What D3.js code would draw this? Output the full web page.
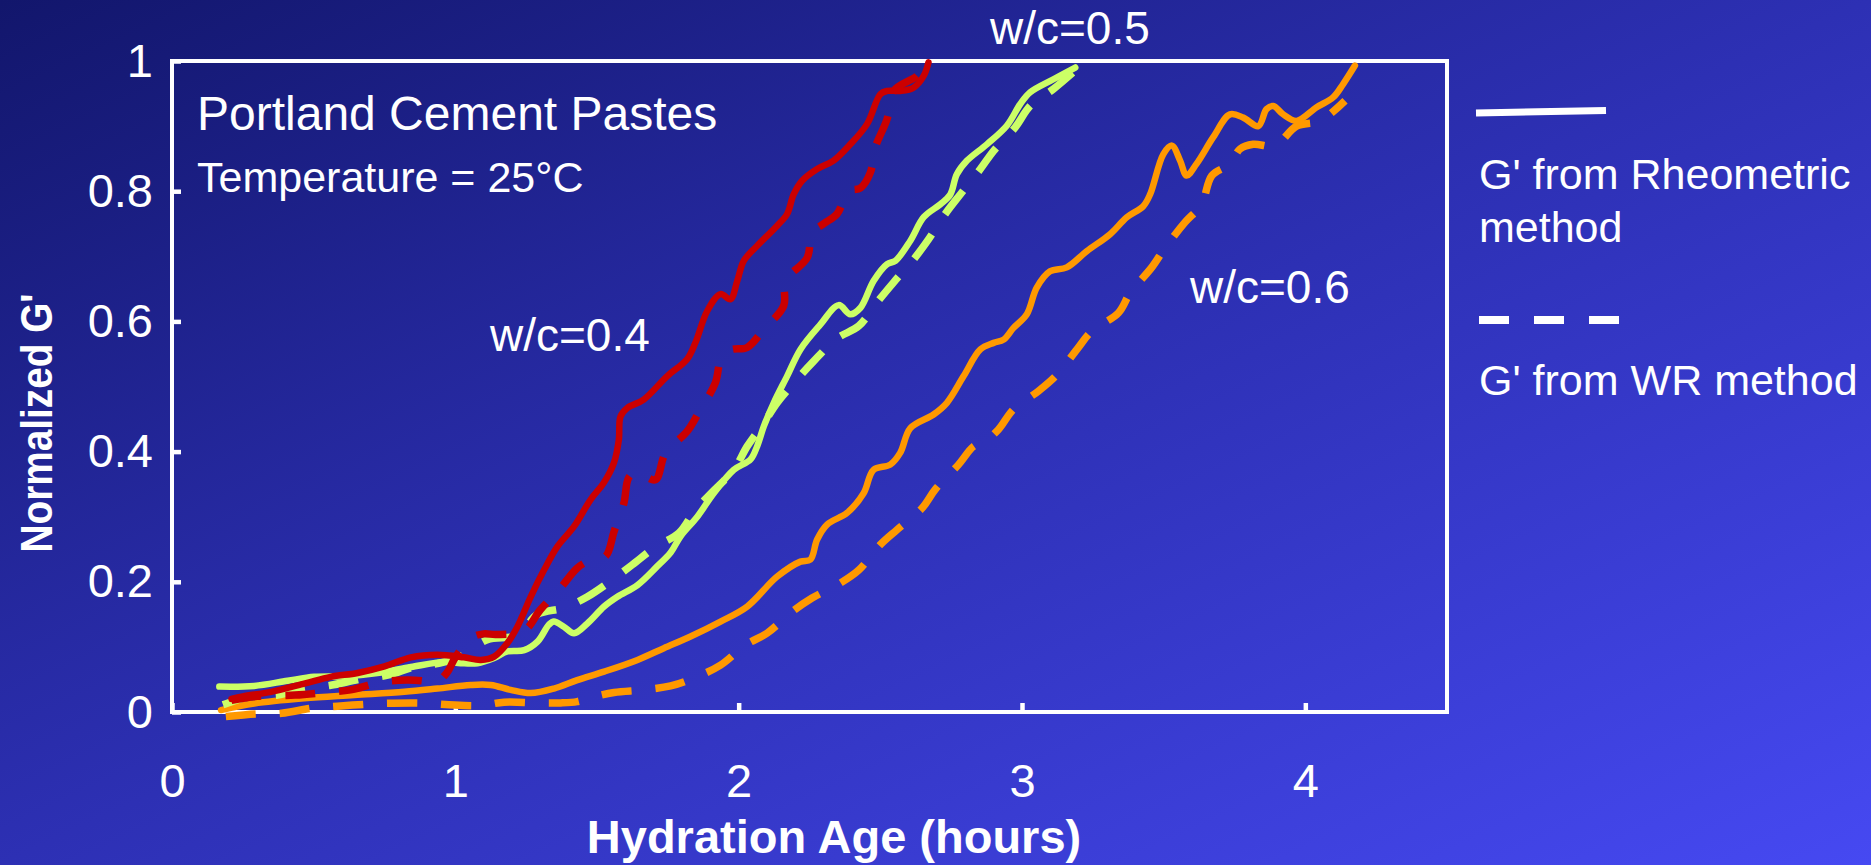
<!DOCTYPE html>
<html>
<head>
<meta charset="utf-8">
<script src="https://cdn.jsdelivr.net/npm/d3@7"></script>
<style>
  html, body { margin: 0; padding: 0; overflow: hidden; background: #2a2ca8; }
  svg { display: block; }
  text { font-family: "Liberation Sans", Arial, Helvetica, sans-serif; fill: #ffffff; }
</style>
</head>
<body>
<svg id="chart" width="1871" height="865"></svg>
<script>
// Normalized storage modulus G' vs hydration age (hours), Portland cement pastes at 25 °C.
// Each series: [hours, normalized G'].

const xTickValues = [0, 1, 2, 3, 4];
const yTickValues = [0, 0.2, 0.4, 0.6, 0.8, 1];
const yTickLabels = ["0", "0.2", "0.4", "0.6", "0.8", "1"];

// w/c = 0.4
const wc04Rheometric = [
  [0.21,0.020],[0.25,0.024],[0.35,0.031],[0.47,0.044],[0.56,0.054],[0.655,0.060],[0.75,0.070],
  [0.843,0.084],[0.937,0.088],[1.03,0.084],[1.09,0.080],[1.137,0.085],[1.184,0.106],[1.219,0.131],
  [1.266,0.177],[1.313,0.218],[1.36,0.254],[1.419,0.285],[1.477,0.326],[1.524,0.352],[1.56,0.383],
  [1.577,0.418],[1.583,0.454],[1.607,0.467],[1.665,0.480],[1.748,0.516],[1.818,0.542],[1.848,0.568],
  [1.889,0.616],[1.936,0.642],[1.971,0.634],[1.995,0.662],[2.018,0.693],[2.065,0.716],[2.136,0.747],
  [2.171,0.765],[2.194,0.795],[2.224,0.816],[2.277,0.834],[2.335,0.847],[2.394,0.872],[2.453,0.903],
  [2.50,0.949],[2.524,0.954],[2.57,0.954],[2.617,0.959],[2.653,0.977],[2.67,0.998]
];
const wc04WR = [
  [0.21,0.018],[0.30,0.024],[0.434,0.026],[0.54,0.030],[0.63,0.034],[0.737,0.046],[0.83,0.049],
  [0.88,0.048],[0.93,0.045],[0.97,0.060],[1.0,0.084],[1.057,0.114],[1.10,0.120],[1.144,0.119],
  [1.243,0.125],[1.30,0.157],[1.37,0.190],[1.43,0.221],[1.47,0.232],[1.53,0.239],[1.56,0.277],
  [1.595,0.321],[1.612,0.360],[1.642,0.370],[1.67,0.362],[1.707,0.357],[1.742,0.398],[1.818,0.431],
  [1.859,0.460],[1.918,0.506],[1.936,0.539],[1.97,0.556],[2.03,0.560],[2.089,0.588],[2.159,0.624],
  [2.165,0.662],[2.242,0.698],[2.259,0.736],[2.30,0.750],[2.347,0.765],[2.388,0.800],[2.43,0.805],
  [2.465,0.829],[2.482,0.867],[2.524,0.911],[2.547,0.954],[2.629,0.977],[2.65,0.990]
];

// w/c = 0.5
const wc05Rheometric = [
  [0.167,0.039],[0.29,0.040],[0.408,0.048],[0.502,0.054],[0.608,0.055],[0.725,0.060],[0.843,0.069],
  [0.96,0.077],[1.019,0.075],[1.078,0.075],[1.137,0.083],[1.184,0.093],[1.243,0.095],[1.29,0.108],
  [1.33,0.134],[1.348,0.139],[1.383,0.131],[1.419,0.121],[1.466,0.136],[1.525,0.162],[1.572,0.177],
  [1.643,0.195],[1.713,0.224],[1.76,0.245],[1.795,0.270],[1.854,0.300],[1.912,0.336],[1.983,0.372],
  [2.042,0.388],[2.065,0.408],[2.089,0.439],[2.124,0.475],[2.171,0.516],[2.218,0.557],[2.288,0.595],
  [2.353,0.625],[2.394,0.611],[2.43,0.621],[2.476,0.662],[2.524,0.688],[2.553,0.693],[2.606,0.724],
  [2.653,0.760],[2.712,0.780],[2.747,0.795],[2.77,0.826],[2.806,0.847],[2.876,0.872],[2.947,0.901],
  [2.994,0.934],[3.029,0.952],[3.111,0.972],[3.188,0.990]
];
const wc05WR = [
  [0.18,0.011],[0.28,0.024],[0.373,0.026],[0.467,0.036],[0.56,0.041],[0.66,0.050],[0.765,0.057],
  [0.853,0.069],[0.945,0.075],[1.016,0.085],[1.113,0.111],[1.219,0.118],[1.29,0.150],[1.383,0.160],
  [1.466,0.177],[1.554,0.203],[1.624,0.226],[1.707,0.254],[1.789,0.275],[1.848,0.311],[1.912,0.340],
  [1.983,0.372],[2.03,0.408],[2.089,0.444],[2.136,0.475],[2.206,0.511],[2.265,0.539],[2.347,0.574],
  [2.424,0.593],[2.488,0.629],[2.547,0.660],[2.617,0.695],[2.67,0.726],[2.729,0.765],[2.782,0.795],
  [2.853,0.834],[2.90,0.862],[2.976,0.898],[3.029,0.931],[3.111,0.957],[3.20,0.990]
];

// w/c = 0.6
const wc06Rheometric = [
  [0.173,0.003],[0.29,0.013],[0.467,0.021],[0.643,0.026],[0.82,0.031],[0.937,0.036],[1.054,0.0415],
  [1.125,0.0415],[1.195,0.034],[1.266,0.029],[1.348,0.036],[1.43,0.049],[1.525,0.062],[1.643,0.080],
  [1.736,0.098],[1.83,0.116],[1.936,0.139],[2.03,0.162],[2.136,0.208],[2.218,0.231],[2.253,0.234],
  [2.277,0.265],[2.312,0.288],[2.383,0.306],[2.441,0.336],[2.476,0.372],[2.535,0.380],[2.57,0.398],
  [2.606,0.436],[2.688,0.457],[2.735,0.475],[2.794,0.516],[2.853,0.557],[2.90,0.567],[2.935,0.572],
  [2.97,0.590],[3.017,0.611],[3.052,0.652],[3.099,0.677],[3.158,0.683],[3.229,0.708],[3.311,0.734],
  [3.37,0.760],[3.428,0.777],[3.452,0.795],[3.499,0.857],[3.529,0.870],[3.558,0.847],[3.581,0.824],
  [3.616,0.842],[3.675,0.883],[3.734,0.918],[3.781,0.913],[3.834,0.900],[3.863,0.926],[3.887,0.931],
  [3.922,0.918],[3.969,0.908],[4.04,0.929],[4.098,0.944],[4.134,0.965],[4.175,0.993]
];
const wc06WR = [
  [0.19,-0.007],[0.296,-0.003],[0.387,-0.002],[0.496,0.006],[0.584,0.009],[0.69,0.012],[0.779,0.0135],
  [0.89,0.0135],[0.978,0.011],[1.09,0.010],[1.172,0.015],[1.284,0.014],[1.372,0.014],[1.43,0.016],
  [1.477,0.022],[1.56,0.030],[1.665,0.034],[1.76,0.040],[1.83,0.050],[1.936,0.072],[2.024,0.103],
  [2.10,0.121],[2.189,0.154],[2.259,0.175],[2.359,0.198],[2.424,0.218],[2.50,0.257],[2.559,0.280],
  [2.647,0.313],[2.694,0.342],[2.776,0.380],[2.829,0.408],[2.87,0.416],[2.917,0.434],[2.97,0.465],
  [3.058,0.493],[3.123,0.518],[3.194,0.557],[3.246,0.585],[3.34,0.613],[3.382,0.644],[3.458,0.683],
  [3.505,0.713],[3.575,0.752],[3.634,0.780],[3.67,0.824],[3.734,0.842],[3.77,0.865],[3.816,0.872],
  [3.893,0.870],[3.969,0.900],[4.052,0.908],[4.14,0.939]
];

const seriesColors = { wc04: "#cc0000", wc05: "#ccff66", wc06: "#ff9900" };

const svg = d3.select("#chart");
const W = 1871, H = 865;

// Background: diagonal blue gradient
const defs = svg.append("defs");
const grad = defs.append("linearGradient")
  .attr("id", "bg").attr("x1", 0).attr("y1", 0).attr("x2", 1).attr("y2", 1);
grad.append("stop").attr("offset", "0%").attr("stop-color", "#12166c");
grad.append("stop").attr("offset", "50%").attr("stop-color", "#2d30b4");
grad.append("stop").attr("offset", "100%").attr("stop-color", "#4649f2");
svg.append("rect").attr("width", W).attr("height", H).attr("fill", "url(#bg)");

const x = d3.scaleLinear().domain([0, 4.5]).range([172, 1447]);
const y = d3.scaleLinear().domain([0, 1]).range([712, 61]);

// Frame
svg.append("rect")
  .attr("x", x(0)).attr("y", y(1))
  .attr("width", x(4.5) - x(0)).attr("height", y(0) - y(1))
  .attr("fill", "none").attr("stroke", "#ffffff").attr("stroke-width", 4);

// Axes with inward ticks
const xAxis = d3.axisBottom(x).tickValues(xTickValues).tickFormat(d3.format("d"))
  .tickSizeInner(-9).tickSizeOuter(0).tickPadding(52);
const yAxis = d3.axisLeft(y).tickValues(yTickValues).tickFormat((d, i) => yTickLabels[i])
  .tickSizeInner(-9).tickSizeOuter(0).tickPadding(19);

function styleAxis(g) {
  g.select(".domain").remove();
  g.selectAll(".tick line").attr("stroke", "#ffffff").attr("stroke-width", 4.5);
  g.selectAll(".tick text").attr("fill", "#ffffff")
    .style("font-family", '"Liberation Sans", Arial, sans-serif').style("font-size", "47px");
}
svg.append("g").attr("transform", `translate(0,${y(0)})`).call(xAxis).call(styleAxis);
svg.append("g").attr("transform", `translate(${x(0)},0)`).call(yAxis).call(styleAxis);

// Curves
const line = d3.line()
  .x(d => x(d[0])).y(d => y(d[1]))
  .curve(d3.curveCatmullRom.alpha(0.5));

const curves = [
  { data: wc06WR, color: seriesColors.wc06, dashed: true },
  { data: wc06Rheometric, color: seriesColors.wc06, dashed: false },
  { data: wc05WR, color: seriesColors.wc05, dashed: true },
  { data: wc05Rheometric, color: seriesColors.wc05, dashed: false },
  { data: wc04WR, color: seriesColors.wc04, dashed: true },
  { data: wc04Rheometric, color: seriesColors.wc04, dashed: false }
];

svg.append("g").selectAll("path").data(curves).join("path")
  .attr("d", d => line(d.data))
  .attr("fill", "none")
  .attr("stroke", d => d.color)
  .attr("stroke-width", d => d.dashed ? 7.5 : 6.5)
  .attr("stroke-dasharray", d => d.dashed ? "30 24" : null)
  .attr("stroke-linejoin", "round")
  .attr("stroke-linecap", d => d.dashed ? "butt" : "round");

// Annotations inside plot
svg.append("text").attr("x", 197).attr("y", 130).style("font-size", "48px").text("Portland Cement Pastes");
svg.append("text").attr("x", 197).attr("y", 192).style("font-size", "43px").text("Temperature = 25°C");
svg.append("text").attr("x", 490).attr("y", 351).style("font-size", "46px").text("w/c=0.4");
svg.append("text").attr("x", 990).attr("y", 44).style("font-size", "46px").text("w/c=0.5");
svg.append("text").attr("x", 1190).attr("y", 303).style("font-size", "46px").text("w/c=0.6");

// Axis titles
svg.append("text")
  .attr("x", 834).attr("y", 853).attr("text-anchor", "middle")
  .style("font-size", "47px").style("font-weight", "bold")
  .text("Hydration Age (hours)");
svg.append("text")
  .attr("transform", "translate(52,423) rotate(-90)")
  .attr("text-anchor", "middle")
  .attr("textLength", 259).attr("lengthAdjust", "spacingAndGlyphs")
  .style("font-size", "45px").style("font-weight", "bold")
  .text("Normalized G'");

// Legend
const legend = svg.append("g");
legend.append("line")
  .attr("x1", 1476).attr("y1", 113).attr("x2", 1606).attr("y2", 110.5)
  .attr("stroke", "#ffffff").attr("stroke-width", 7);
legend.append("text").attr("x", 1479).attr("y", 189).style("font-size", "43px").text("G' from Rheometric");
legend.append("text").attr("x", 1479).attr("y", 242).style("font-size", "43px").text("method");
legend.append("line")
  .attr("x1", 1479).attr("y1", 320).attr("x2", 1620).attr("y2", 320)
  .attr("stroke", "#ffffff").attr("stroke-width", 8).attr("stroke-dasharray", "30 25");
legend.append("text").attr("x", 1479).attr("y", 395).style("font-size", "43px").text("G' from WR method");
</script>
</body>
</html>
